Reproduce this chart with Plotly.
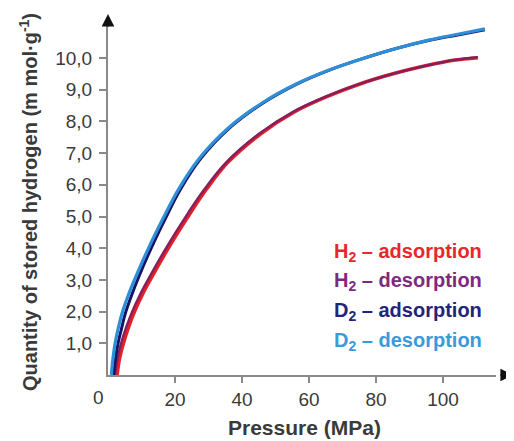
import plotly.graph_objects as go

# ---- data ----
d2_des_p = [1.0, 1.5, 2.2, 3.0, 4.2, 6.0, 8.3, 12.0, 16.5, 21.0, 27.0, 36.0, 46.0, 56.0, 66.0, 76.0, 86.0, 96.0, 104.0, 112.5]
d2_des_q = [0.0, 0.55, 1.05, 1.45, 1.95, 2.5, 3.1, 3.98, 4.95, 5.85, 6.8, 7.8, 8.58, 9.17, 9.62, 9.98, 10.3, 10.57, 10.74, 10.92]

d2_ads_p = [1.7, 2.3, 3.1, 4.0, 5.2, 7.0, 9.2, 12.8, 17.2, 21.6, 27.5, 36.4, 46.3, 56.2, 66.1, 76.0, 86.0, 96.0, 104.0, 112.5]
d2_ads_q = [0.0, 0.55, 1.05, 1.45, 1.95, 2.5, 3.1, 3.98, 4.95, 5.85, 6.8, 7.8, 8.58, 9.17, 9.62, 9.98, 10.3, 10.56, 10.72, 10.89]

h2_des_p = [2.1, 2.8, 3.9, 5.4, 7.2, 9.6, 12.3, 17.4, 22.9, 28.7, 35.2, 45.2, 55.2, 65.0, 75.0, 85.0, 95.0, 103.0, 110.4]
h2_des_q = [0.0, 0.5, 1.0, 1.5, 2.0, 2.55, 3.08, 4.02, 4.95, 5.85, 6.7, 7.62, 8.3, 8.78, 9.18, 9.5, 9.76, 9.93, 10.03]

h2_ads_p = [2.7, 3.4, 4.6, 6.1, 7.9, 10.3, 13.0, 18.1, 23.6, 29.3, 35.7, 45.7, 55.6, 65.3, 75.2, 85.1, 95.1, 103.1, 110.4]
h2_ads_q = [0.0, 0.5, 1.0, 1.5, 2.0, 2.55, 3.08, 4.02, 4.95, 5.85, 6.7, 7.62, 8.3, 8.78, 9.18, 9.5, 9.76, 9.93, 10.01]

y_ticks = [1, 2, 3, 4, 5, 6, 7, 8, 9, 10]
y_tick_labels = ["1,0", "2,0", "3,0", "4,0", "5,0", "6,0", "7,0", "8,0", "9,0", "10,0"]
x_ticks = [20, 40, 60, 80, 100]
x_tick_labels = ["20", "40", "60", "80", "100"]

legend_labels = ["H<sub>2</sub> – adsorption", "H<sub>2</sub> – desorption",
                 "D<sub>2</sub> – adsorption", "D<sub>2</sub> – desorption"]
legend_colors = ["#e8262e", "#7d2a7e", "#23237a", "#3a9ad9"]

FONT = "Arial, Liberation Sans, sans-serif"
AX = "#8a8a8a"
TXT = "#3a3a3a"

fig = go.Figure()
series = [
    (h2_ads_p, h2_ads_q, "#e41e2b", 3.6),
    (h2_des_p, h2_des_q, "#82205e", 2.3),
    (d2_ads_p, d2_ads_q, "#141466", 3.0),
    (d2_des_p, d2_des_q, "#2e8fd8", 3.2),
]
for p, q, c, w in series:
    fig.add_trace(go.Scatter(x=p, y=q, mode="lines",
                             line=dict(color=c, width=w, shape="spline", smoothing=1.0),
                             showlegend=False, hoverinfo="skip"))

# page body has an 8px margin, so the figure is 8px smaller and all pixel
# positions below are in page coordinates of the reference
OFF = 8
W, H = 514 - OFF, 441 - OFF
X0, X1, Y0, Y1 = 108, 496, 375, 24          # plot area in page pixels
ml, mr, mt, mb = X0 - OFF, (W + OFF) - X1, Y1 - OFF, (H + OFF) - Y0
pw, ph = X1 - X0, Y0 - Y1


def px(xp):
    return (xp - X0) / pw


def py(yp):
    return (Y0 - yp) / ph


fig.update_layout(
    width=W, height=H,
    margin=dict(l=ml, r=mr, t=mt, b=mb, pad=0),
    paper_bgcolor="white", plot_bgcolor="white",
    font=dict(family=FONT, color=TXT),
    xaxis=dict(range=[0, pw / 3.35], showgrid=False, zeroline=False,
               showline=True, linecolor=AX, linewidth=2,
               tickmode="array", tickvals=x_ticks, ticktext=x_tick_labels,
               ticks="outside", ticklen=6, tickwidth=1.5, tickcolor=AX,
               tickfont=dict(size=19, color=TXT, family=FONT)),
    yaxis=dict(range=[0, ph / 31.7], showgrid=False, zeroline=False,
               showline=True, linecolor=AX, linewidth=2,
               tickmode="array", tickvals=y_ticks, ticktext=y_tick_labels,
               ticks="outside", ticklen=7, tickwidth=1.5, tickcolor=AX,
               ticklabelstandoff=3,
               tickfont=dict(size=19, color=TXT, family=FONT)),
)

# arrowheads at the ends of the axes
fig.add_annotation(x=0, y=py(14), xref="x", yref="paper", text="", showarrow=True,
                   ax=0, ay=14, axref="pixel", ayref="pixel",
                   arrowhead=2, arrowsize=1.4, arrowwidth=1.8, arrowcolor="#111111")
fig.add_annotation(x=px(513), y=0, xref="paper", yref="y", text="", showarrow=True,
                   ax=-14, ay=0, axref="pixel", ayref="pixel",
                   arrowhead=2, arrowsize=1.4, arrowwidth=1.8, arrowcolor="#111111")

# origin label
fig.add_annotation(x=px(98), y=py(398), xref="paper", yref="paper",
                   text="0", showarrow=False, font=dict(size=19, color=TXT, family=FONT),
                   xanchor="center", yanchor="middle")

# axis titles
fig.add_annotation(x=px(304), y=py(427), xref="paper", yref="paper",
                   text="<b>Pressure (MPa)</b>", showarrow=False,
                   font=dict(size=21, color=TXT, family=FONT),
                   xanchor="center", yanchor="middle")
fig.add_annotation(x=px(28), y=py(202), xref="paper", yref="paper",
                   text="<b>Quantity of stored hydrogen (m mol·g<sup>-1</sup>)</b>", showarrow=False,
                   textangle=-90, font=dict(size=20, color=TXT, family=FONT),
                   xanchor="center", yanchor="middle")

# legend texts
for i, (lab, col) in enumerate(zip(legend_labels, legend_colors)):
    ypix = 252 + 29.7 * i
    fig.add_annotation(x=px(332), y=py(ypix), xref="paper", yref="paper",
                       text="<b>" + lab + "</b>", showarrow=False,
                       font=dict(size=20, color=col, family=FONT),
                       xanchor="left", yanchor="middle")

fig.write_html("out.html")
